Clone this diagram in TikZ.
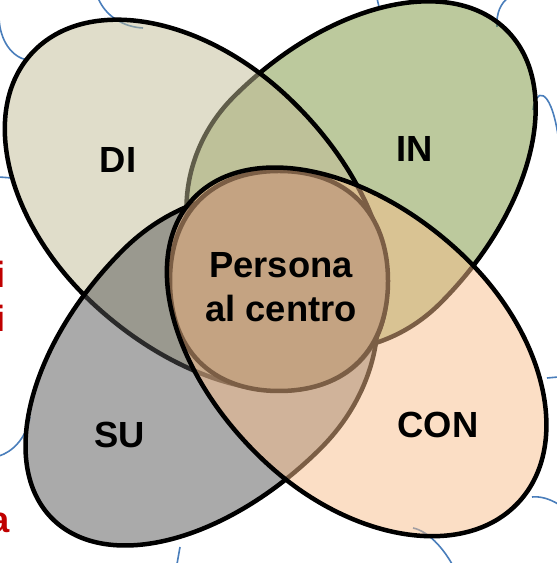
\documentclass[tikz,border=0pt]{standalone}
\usepackage{fontspec}
\setmainfont{Liberation Sans}
\definecolor{inGreen}{HTML}{79933B}
\definecolor{diSand}{HTML}{C1BB95}
\definecolor{suGray}{HTML}{555555}
\definecolor{conPeach}{HTML}{F7BD8B}
\definecolor{centroBrown}{HTML}{918979}
\definecolor{cloudBlue}{HTML}{4A7EBB}
\definecolor{cutRed}{HTML}{C00000}
\newcommand{\Petal}[6]{\draw[petal,fill=#1,shift={#2},rotate=#3] (0,#6) arc[start angle=90,end angle=270,x radius=#4,y radius=#6] arc[start angle=-90,end angle=90,x radius=#5,y radius=#6] -- cycle;}
\tikzset{
  petal/.style={draw=black,line width=4.5bp,fill opacity=0.5},
  centro/.style={draw=black,line width=4.5bp,fill=centroBrown},
  lbl/.style={font=\bfseries\fontsize{36.5}{44}\selectfont,inner sep=0pt},
  cut/.style={lbl,text=cutRed,anchor=base west},
  cloud/.style={draw=cloudBlue,line width=1.6bp}
}

\begin{document}
\begin{tikzpicture}[x=1bp,y=1bp]
\useasboundingbox (0,0) rectangle (557,563);

\node[cut] (i-1) at (-4.7,275) {i};
\node[cut] (i-2) at (-4.7,231) {i};
\node[cut] (a-1) at (-10.3,30) {a};

\draw[cloud] (-1,545) .. controls (0,522) and (12,506) .. (27,503);
\draw[cloud] (98,565) .. controls (106,546) and (124,536) .. (143,535);
\draw[cloud] (-1,386) -- (12,385);
\draw[cloud] (377,565) .. controls (378,560) .. (380,553);
\draw[cloud] (497,536) .. controls (496,550) and (501,560) .. (508,565);
\draw[cloud] (533,453) .. controls (535,474) and (550,478) .. (558,428);
\draw[cloud] (-1,107) .. controls (12,111) and (26,124) .. (30,146);
\draw[cloud] (180,16) -- (177,-1);
\draw[cloud] (547,185) -- (558,186);
\draw[cloud] (532,66) .. controls (540,67) and (550,64) .. (558,59);
\draw[cloud] (413,35) .. controls (428,32) and (443,15) .. (452,-1);

\Petal{inGreen}{(337,363)}{-135}{240}{155}{146}
\Petal{diSand}{(189.5,363.6)}{-43}{215}{235}{142}
\Petal{suGray}{(222,214)}{45}{240}{170}{140}
\draw[centro,shift={(279,282)}] (109,0) .. controls (109,68) and (68,110) .. (0,110)
  .. controls (-68,110) and (-109,68) .. (-109,0)
  .. controls (-109,-68) and (-68,-110) .. (0,-110)
  .. controls (68,-110) and (109,-68) .. (109,0) -- cycle;
\Petal{conPeach}{(362.6,205.8)}{137}{213}{232}{143}

\node[lbl] (DI) at (118,403) {DI};
\node[lbl] (IN) at (415,414) {IN};
\node[lbl] (SU) at (120,128) {SU};
\node[lbl] (CON) at (438,138) {CON};
\node[lbl,align=center] (centro) at (281,276) {Persona\\al centro};
\end{tikzpicture}
\end{document}
